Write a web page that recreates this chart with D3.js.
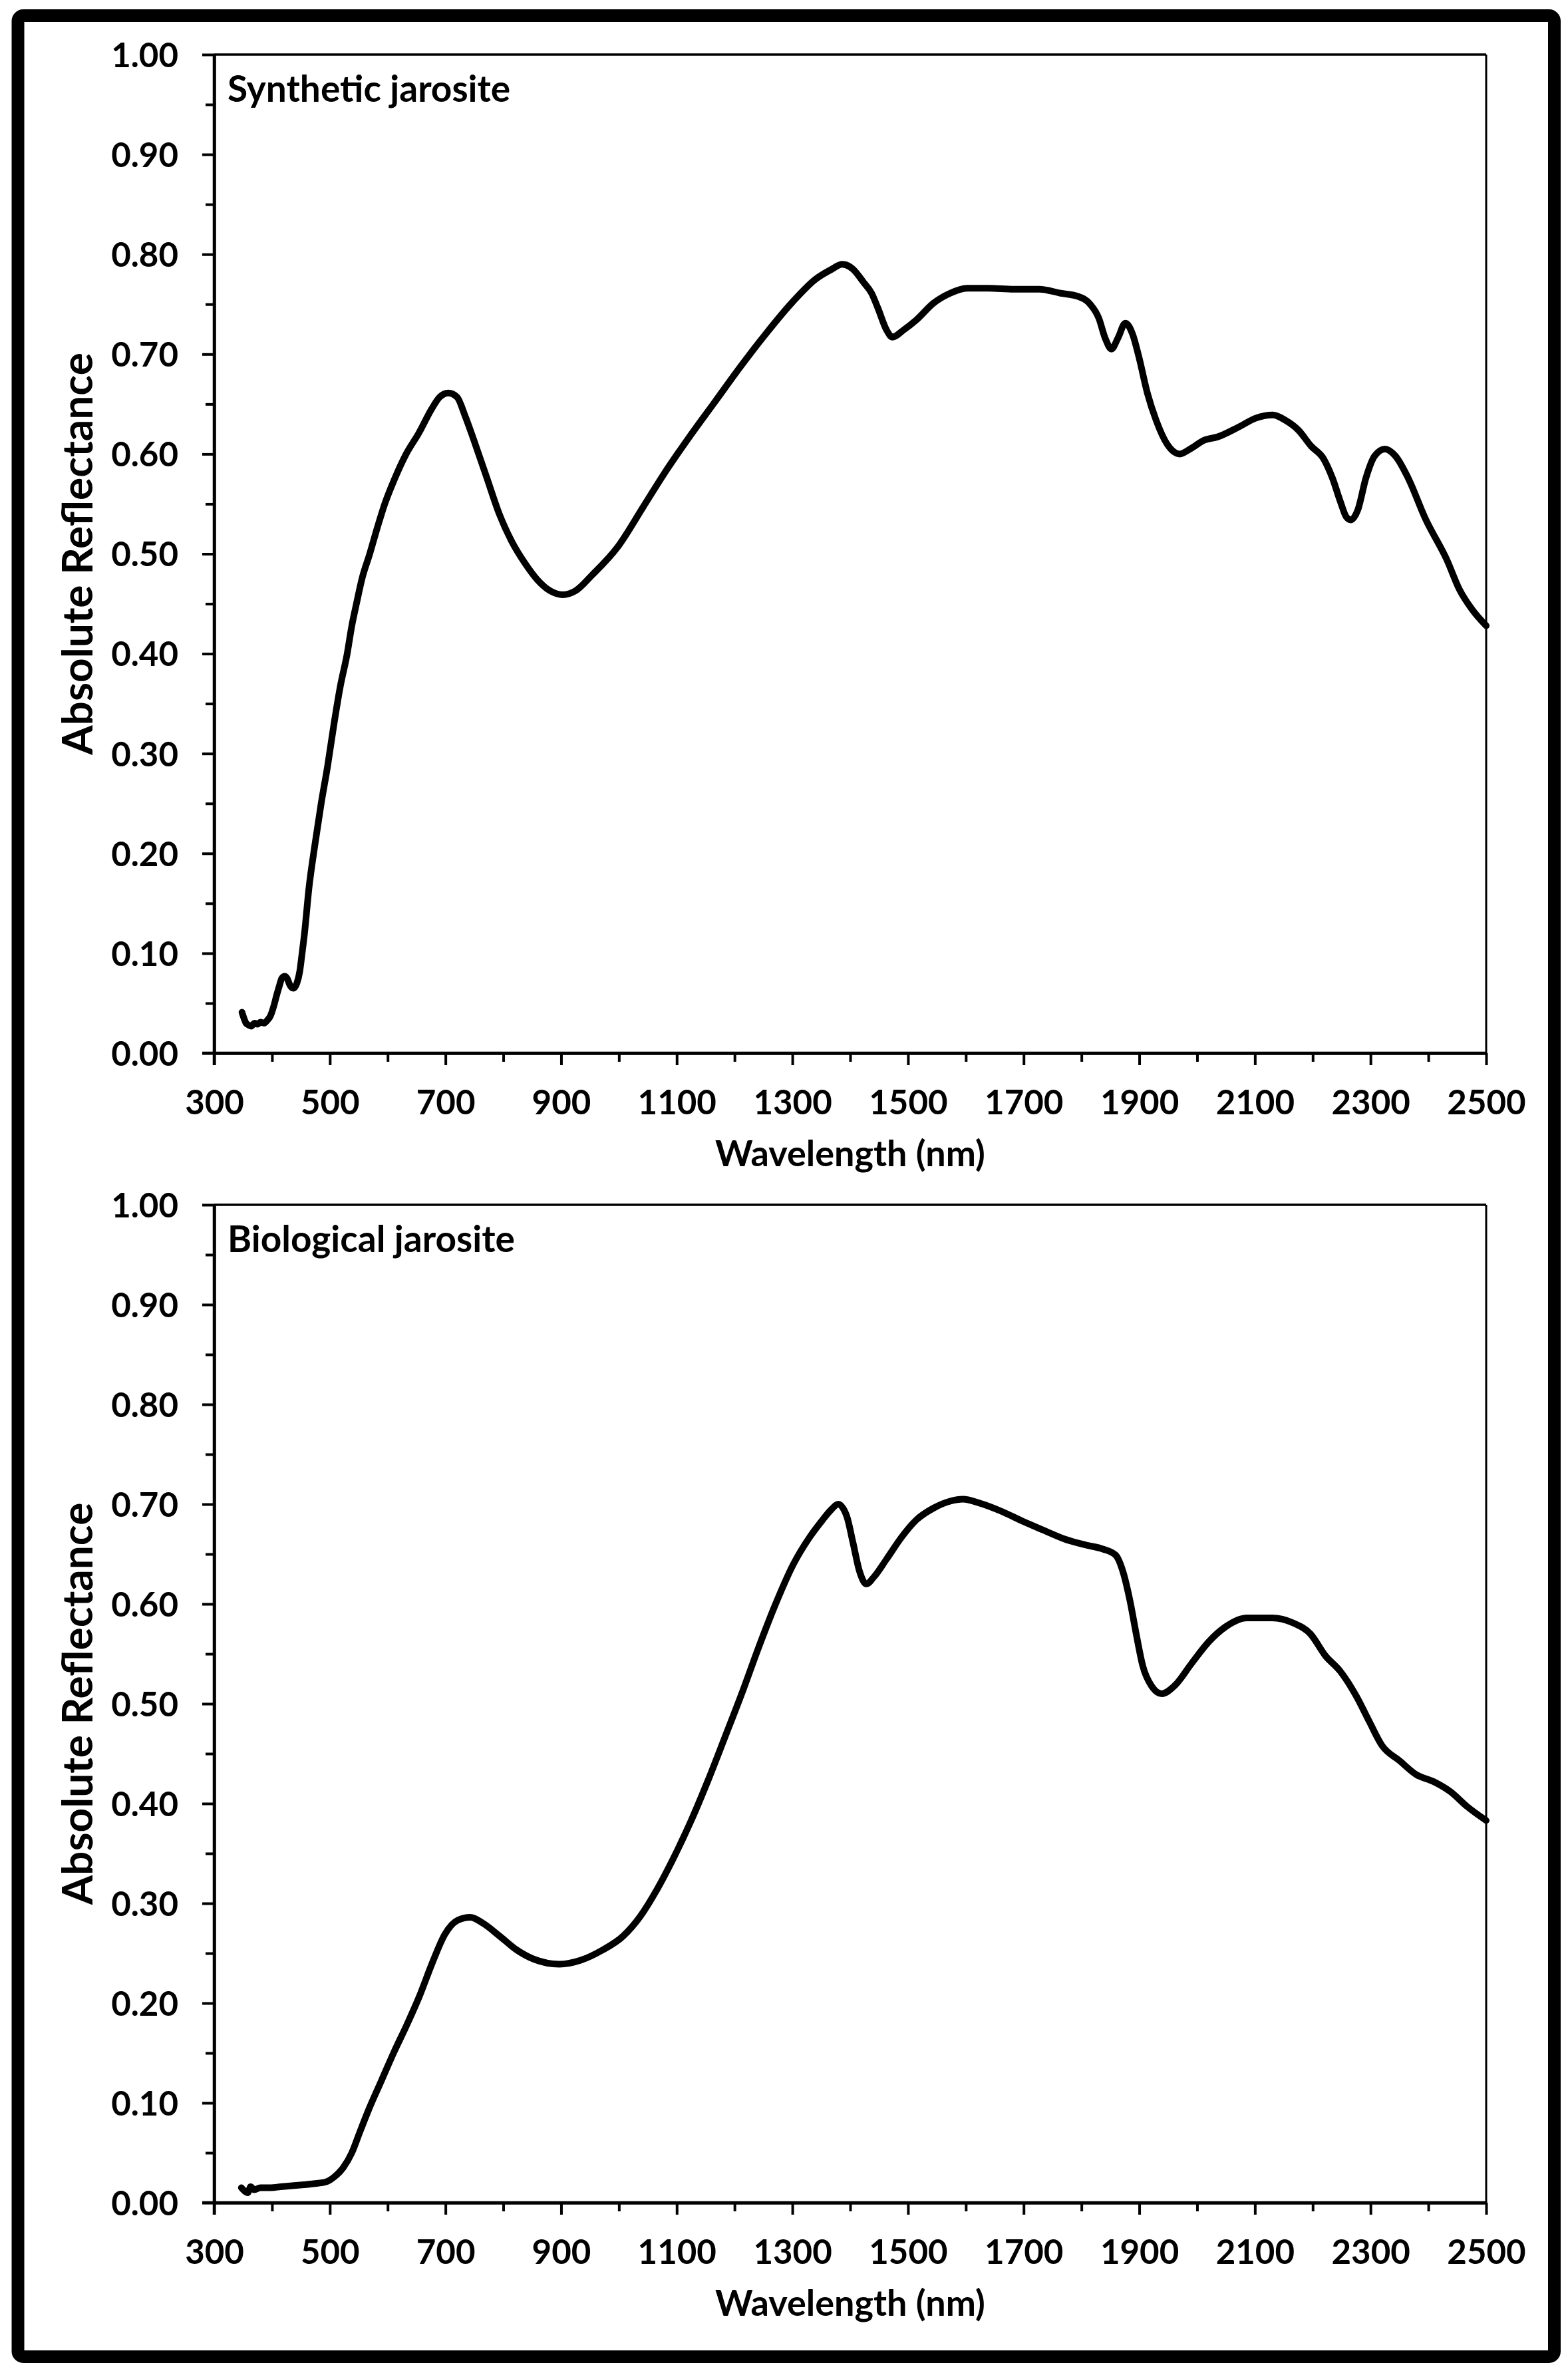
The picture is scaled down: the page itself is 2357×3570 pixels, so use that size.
<!DOCTYPE html>
<html>
<head>
<meta charset="utf-8">
<script src="https://cdn.jsdelivr.net/npm/d3@7"></script>
<style>
  html, body { margin: 0; padding: 0; background: #ffffff; }
  svg { display: block; }
  text { font-family: "Lato", "Open Sans", sans-serif; font-weight: 700; fill: #000; }
</style>
</head>
<body>
<svg id="chart" width="2357" height="3570"></svg>
<script>
// ---------------- data ----------------
const syntheticWavelength = [348,352,355,360,364,370,375,380,386,392,397,403,408,413,417,422,426,431,437,443,448,452,456,464,474,485,496,507,518,530,538,546,556,569,582,595,612,632,654,676,690,705,720,734,749,771,793,815,837,859,881,903,925,954,998,1042,1079,1123,1167,1211,1255,1300,1340,1368,1386,1405,1423,1437,1448,1463,1473,1492,1514,1544,1573,1602,1639,1683,1727,1764,1793,1815,1830,1841,1852,1863,1876,1889,1899,1914,1929,1948,1970,1988,2013,2035,2072,2102,2131,2152,2175,2197,2219,2234,2248,2258,2266,2278,2292,2307,2325,2343,2365,2395,2432,2454,2476,2500];
const syntheticReflectance = [0.041,0.034,0.030,0.028,0.027,0.030,0.029,0.031,0.030,0.033,0.037,0.047,0.058,0.068,0.075,0.077,0.075,0.068,0.065,0.070,0.082,0.100,0.119,0.166,0.208,0.250,0.287,0.329,0.367,0.400,0.428,0.450,0.476,0.500,0.526,0.550,0.575,0.600,0.621,0.645,0.657,0.661,0.657,0.638,0.614,0.577,0.540,0.512,0.491,0.474,0.463,0.459,0.463,0.479,0.507,0.547,0.581,0.618,0.653,0.688,0.721,0.752,0.775,0.785,0.790,0.785,0.772,0.761,0.746,0.724,0.717,0.724,0.734,0.751,0.761,0.766,0.766,0.765,0.765,0.761,0.758,0.750,0.736,0.716,0.705,0.716,0.731,0.719,0.698,0.661,0.634,0.610,0.600,0.605,0.614,0.617,0.627,0.636,0.639,0.634,0.624,0.608,0.595,0.576,0.552,0.537,0.534,0.544,0.576,0.598,0.605,0.598,0.576,0.535,0.494,0.464,0.444,0.428];

const biologicalWavelength = [347,352,358,363,369,380,398,415,435,455,472,494,508,523,538,552,567,589,611,633,655,677,699,721,743,765,794,824,853,897,934,971,1007,1037,1066,1095,1125,1154,1183,1213,1242,1271,1301,1330,1352,1368,1379,1394,1405,1416,1428,1441,1463,1489,1514,1544,1573,1595,1624,1661,1698,1734,1771,1808,1837,1859,1873,1884,1895,1906,1921,1939,1961,1990,2020,2049,2086,2130,2166,2196,2222,2247,2276,2298,2320,2350,2379,2409,2438,2467,2500];
const biologicalReflectance = [0.015,0.012,0.010,0.016,0.013,0.015,0.015,0.016,0.017,0.018,0.019,0.021,0.026,0.035,0.050,0.071,0.093,0.122,0.151,0.178,0.207,0.240,0.269,0.283,0.286,0.280,0.267,0.253,0.244,0.239,0.243,0.253,0.267,0.287,0.314,0.346,0.383,0.423,0.466,0.511,0.557,0.600,0.639,0.667,0.684,0.695,0.700,0.688,0.661,0.633,0.620,0.627,0.645,0.667,0.684,0.696,0.703,0.705,0.701,0.693,0.683,0.674,0.665,0.659,0.655,0.649,0.630,0.603,0.569,0.538,0.518,0.510,0.518,0.540,0.562,0.577,0.586,0.586,0.581,0.570,0.548,0.533,0.507,0.482,0.458,0.443,0.429,0.422,0.412,0.397,0.383];

const xTickValues = [300,500,700,900,1100,1300,1500,1700,1900,2100,2300,2500];
const xMinorTickValues = [400,600,800,1000,1200,1400,1600,1800,2000,2200,2400];
const yTickValues = [0,0.1,0.2,0.3,0.4,0.5,0.6,0.7,0.8,0.9,1.0];
const yMinorTickValues = [0.05,0.15,0.25,0.35,0.45,0.55,0.65,0.75,0.85,0.95];
const panelTitles = ["Synthetic jarosite", "Biological jarosite"];
const xAxisTitle = "Wavelength (nm)";
const yAxisTitle = "Absolute Reflectance";

// ---------------- drawing ----------------
const svg = d3.select("#chart");
svg.append("rect").attr("x",0).attr("y",0).attr("width",2357).attr("height",3570).attr("fill","#fff");

// outer border
svg.append("rect")
  .attr("x", 27).attr("y", 23.5)
  .attr("width", 2309.5).attr("height", 3519)
  .attr("rx", 8).attr("ry", 8)
  .attr("fill", "none").attr("stroke", "#000").attr("stroke-width", 19);

const plotLeft = 322, plotRight = 2234;
const x = d3.scaleLinear().domain([300, 2500]).range([plotLeft, plotRight]);

const panels = [
  { top: 82, bottom: 1583, wl: syntheticWavelength, refl: syntheticReflectance, title: panelTitles[0] },
  { top: 1811, bottom: 3311, wl: biologicalWavelength, refl: biologicalReflectance, title: panelTitles[1] }
];

panels.forEach(p => {
  const y = d3.scaleLinear().domain([0, 1]).range([p.bottom, p.top]);
  const g = svg.append("g");

  // frame top and right
  g.append("line").attr("x1", plotLeft).attr("x2", plotRight).attr("y1", y(1)).attr("y2", y(1))
    .attr("stroke", "#000").attr("stroke-width", 3.5);
  g.append("line").attr("x1", plotRight).attr("x2", plotRight).attr("y1", y(1)).attr("y2", y(0))
    .attr("stroke", "#000").attr("stroke-width", 3);

  // minor y ticks
  const yMinor = g.append("g").attr("transform", `translate(${plotLeft},0)`)
    .call(d3.axisLeft(y).tickValues(yMinorTickValues).tickSize(13).tickSizeOuter(0).tickFormat(""));
  yMinor.select(".domain").remove();
  // major y axis
  const yAxis = g.append("g").attr("transform", `translate(${plotLeft},0)`)
    .call(d3.axisLeft(y).tickValues(yTickValues).tickSize(18).tickSizeOuter(0).tickPadding(36).tickFormat(d3.format(".2f")));
  yAxis.selectAll("text").attr("font-size", 51).attr("dy", "0.36em").attr("font-family", "Lato").attr("font-weight", 700);

  // minor x ticks
  const xMinor = g.append("g").attr("transform", `translate(0,${p.bottom})`)
    .call(d3.axisBottom(x).tickValues(xMinorTickValues).tickSize(13).tickSizeOuter(0).tickFormat(""));
  xMinor.select(".domain").remove();
  // major x axis
  const xAxis = g.append("g").attr("transform", `translate(0,${p.bottom})`)
    .call(d3.axisBottom(x).tickValues(xTickValues).tickSize(18).tickSizeOuter(0).tickFormat(d3.format("d")));
  xAxis.selectAll("text").attr("font-size", 51).attr("y", 92).attr("dy", 0).attr("font-family", "Lato").attr("font-weight", 700);

  [yMinor, yAxis, xMinor, xAxis].forEach(a => {
    a.selectAll(".tick line").attr("stroke", "#000").attr("stroke-width", 4);
    a.selectAll(".domain").attr("stroke", "#000").attr("stroke-width", 4.5);
  });

  // extend the domain lines slightly past the frame corners
  g.append("line").attr("x1", plotLeft - 18).attr("x2", plotRight).attr("y1", p.bottom).attr("y2", p.bottom)
    .attr("stroke", "#000").attr("stroke-width", 4.5);
  g.append("line").attr("x1", plotLeft).attr("x2", plotLeft).attr("y1", y(1)).attr("y2", p.bottom + 18)
    .attr("stroke", "#000").attr("stroke-width", 4.5);

  // data line
  const data = p.wl.map((w, i) => [w, p.refl[i]]);
  g.append("path")
    .datum(data)
    .attr("fill", "none")
    .attr("stroke", "#000")
    .attr("stroke-width", 10)
    .attr("stroke-linejoin", "round")
    .attr("stroke-linecap", "round")
    .attr("d", d3.line().x(d => x(d[0])).y(d => y(d[1])).curve(d3.curveMonotoneX));

  // panel label
  g.append("text").attr("x", 342).attr("y", p.top + 71)
    .attr("font-size", 55).text(p.title);

  // x axis title
  g.append("text").attr("x", (plotLeft + plotRight) / 2).attr("y", p.bottom + 170)
    .attr("text-anchor", "middle").attr("font-size", 54).text(xAxisTitle);

  // y axis title
  g.append("text")
    .attr("transform", `translate(139,${(p.top + p.bottom) / 2}) rotate(-90)`)
    .attr("text-anchor", "middle").attr("font-size", 64).text(yAxisTitle);
});
</script>
</body>
</html>
